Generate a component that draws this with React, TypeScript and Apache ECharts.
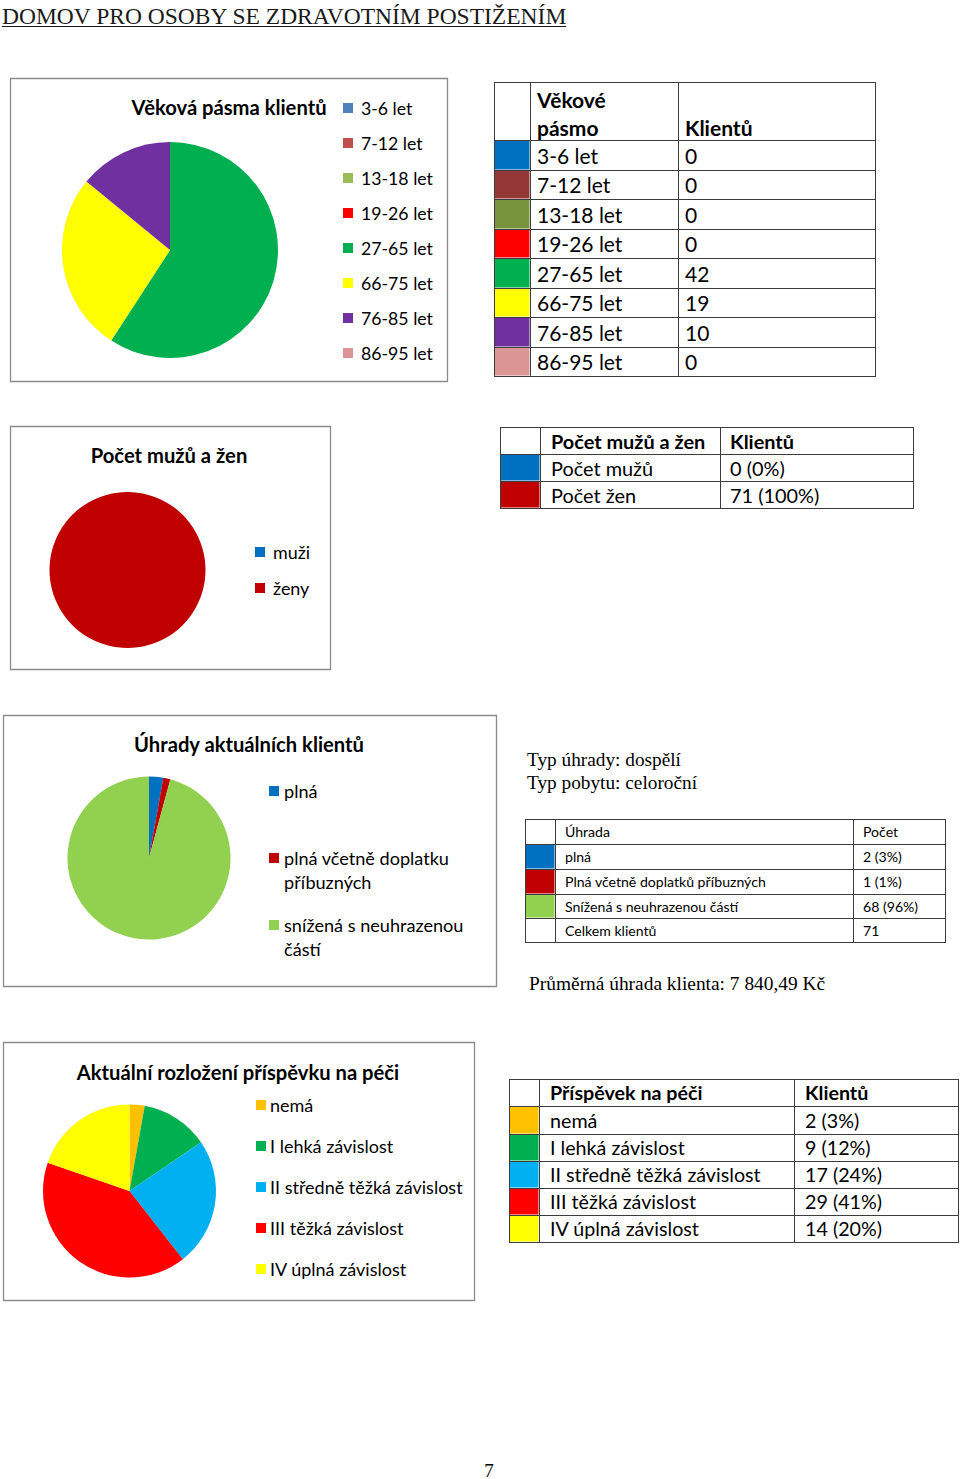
import React, { useEffect, useRef } from "react";
import * as echarts from "echarts";

const SANS = "Lato, Carlito, Calibri, 'Open Sans', sans-serif";
const SERIF = "'Liberation Serif', 'Times New Roman', serif";

const pageTitle = "DOMOV PRO OSOBY SE ZDRAVOTNÍM POSTIŽENÍM";
const pageNumber = "7";

// 1 – age bands
const ageTitle = "Věková pásma klientů";
const ageNames = ["3-6 let", "7-12 let", "13-18 let", "19-26 let", "27-65 let", "66-75 let", "76-85 let", "86-95 let"];
const ageValues = [0, 0, 0, 0, 42, 19, 10, 0];
const ageChartColors = ["#4F81BD", "#C0504D", "#9BBB59", "#FF0000", "#00B050", "#FFFF00", "#7030A0", "#D99694"];
const ageTableColors = ["#0070C0", "#953735", "#77933C", "#FF0000", "#00B050", "#FFFF00", "#7030A0", "#D99694"];
const ageTableHeader = ["Věkové", "pásmo", "Klientů"];

// 2 – men / women
const sexTitle = "Počet mužů a žen";
const sexNames = ["muži", "ženy"];
const sexValues = [0, 71];
const sexColors = ["#0070C0", "#C00000"];
const sexTableHeader = ["Počet mužů a žen", "Klientů"];
const sexTableLabels = ["Počet mužů", "Počet žen"];
const sexTableValues = ["0 (0%)", "71 (100%)"];

// 3 – payments
const payTitle = "Úhrady aktuálních klientů";
const payNames = ["plná", "plná včetně doplatku příbuzných", "snížená s neuhrazenou částí"];
const payLegendLines = [["plná"], ["plná včetně doplatku", "příbuzných"], ["snížená s neuhrazenou", "částí"]];
const payValues = [2, 1, 68];
const payColors = ["#0070C0", "#C00000", "#92D050"];
const payTableHeader = ["Úhrada", "Počet"];
const payTableLabels = ["plná", "Plná včetně doplatků příbuzných", "Snížená s neuhrazenou částí"];
const payTableCounts = ["2 (3%)", "1 (1%)", "68 (96%)"];
const payTotalLabel = "Celkem klientů";
const payTotal = "71";
const payInfoLines = ["Typ úhrady: dospělí", "Typ pobytu: celoroční"];
const payAverage = "Průměrná úhrada klienta: 7 840,49 Kč";

// 4 – care allowance
const careTitle = "Aktuální rozložení příspěvku na péči";
const careNames = ["nemá", "I lehká závislost", "II středně těžká závislost", "III těžká závislost", "IV úplná závislost"];
const careValues = [2, 9, 17, 29, 14];
const careColors = ["#FFC000", "#00B050", "#00B0F0", "#FF0000", "#FFFF00"];
const careTableHeader = ["Příspěvek na péči", "Klientů"];
const careTableValues = ["2 (3%)", "9 (12%)", "17 (24%)", "29 (41%)", "14 (20%)"];

function txt(x: number, y: number, text: string, size: number, o: any = {}) {
  const align = o.align ?? "left";
  return {
    type: "text",
    x,
    y,
    silent: true,
    z: 20,
    style: {
      text,
      fill: o.fill ?? "#000",
      fontSize: size,
      fontFamily: o.family ?? SANS,
      fontWeight: o.bold ? "bold" : "normal",
      align,
      verticalAlign: "middle",
      textAlign: align,
      textVerticalAlign: "middle",
    },
  };
}

function rect(x: number, y: number, w: number, h: number, fill: string, stroke?: string, lw?: number) {
  return {
    type: "rect",
    silent: true,
    z: 5,
    shape: { x, y, width: w, height: h },
    style: { fill, stroke: stroke ?? "none", lineWidth: lw ?? 0 },
  };
}

function line(x1: number, y1: number, x2: number, y2: number, stroke: string, lw: number) {
  return { type: "line", silent: true, z: 10, shape: { x1, y1, x2, y2 }, style: { stroke, lineWidth: lw } };
}

function grid(cols: number[], rows: number[], colors: (string | null)[]) {
  const els: any[] = [];
  colors.forEach((c, r) => {
    if (c) els.push(rect(cols[0] + 0.5, rows[r] + 0.5, cols[1] - cols[0] - 1, rows[r + 1] - rows[r] - 1, c));
  });
  const stroke = "#3c3c3c";
  rows.forEach((y) => els.push(line(cols[0], y + 0.5, cols[cols.length - 1] + 1, y + 0.5, stroke, 1)));
  cols.forEach((x) => els.push(line(x + 0.5, rows[0], x + 0.5, rows[rows.length - 1] + 1, stroke, 1)));
  return els;
}

function box(x1: number, y1: number, x2: number, y2: number) {
  return rect(x1 + 0.5, y1 + 0.5, x2 - x1, y2 - y1, "rgba(0,0,0,0)", "#8a8a8a", 1.3);
}

function legend(x: number, ys: number[], lines: string[][], colors: string[], size: number, gap: number, lh: number) {
  const els: any[] = [];
  ys.forEach((y, i) => {
    els.push(rect(x, y - 5, 10, 10, colors[i]));
    lines[i].forEach((t, k) => els.push(txt(x + gap, y + k * lh, t, size)));
  });
  return els;
}

function centers(rows: number[]) {
  return rows.slice(0, -1).map((y, i) => (y + rows[i + 1]) / 2);
}

function buildOption() {
  const g: any[] = [];
  const TITLE = 20.2;

  // page header
  g.push(txt(2, 16, pageTitle, 23.5, { family: SERIF, fill: "#1a1a1a" }));
  g.push(line(2, 26.5, 566, 26.5, "#1a1a1a", 1));

  // ---- section 1
  g.push(box(10, 78, 447, 381));
  g.push(txt(229, 107, ageTitle, TITLE, { bold: true, align: "center" }));
  g.push(
    ...legend(
      343,
      ageNames.map((_, i) => 108 + i * 35),
      ageNames.map((n) => [n]),
      ageChartColors,
      17.7,
      18,
      0
    )
  );
  const t1c = [494, 530, 678, 875];
  const t1r = [82, 140, 170, 199, 229, 258, 288, 317, 347, 376];
  g.push(...grid(t1c, t1r, [null, ...ageTableColors]));
  g.push(txt(537, 99, ageTableHeader[0], 21, { bold: true }));
  g.push(txt(537, 127, ageTableHeader[1], 21, { bold: true }));
  g.push(txt(685, 127, ageTableHeader[2], 21, { bold: true }));
  const c1 = centers(t1r).slice(1);
  ageNames.forEach((n, i) => {
    g.push(txt(537, c1[i], n, 21));
    g.push(txt(685, c1[i], String(ageValues[i]), 21));
  });

  // ---- section 2
  g.push(box(10, 426, 330, 669));
  g.push(txt(169, 455, sexTitle, TITLE, { bold: true, align: "center" }));
  g.push(...legend(255, [552, 588], sexNames.map((n) => [n]), sexColors, 17.9, 18, 0));
  const t2c = [500, 540, 720, 913];
  const t2r = [427, 454, 481, 508];
  g.push(...grid(t2c, t2r, [null, ...sexColors]));
  const c2 = centers(t2r);
  g.push(txt(551, c2[0], sexTableHeader[0], 19.9, { bold: true }));
  g.push(txt(730, c2[0], sexTableHeader[1], 19.9, { bold: true }));
  sexTableLabels.forEach((n, i) => {
    g.push(txt(551, c2[i + 1], n, 19.9));
    g.push(txt(730, c2[i + 1], sexTableValues[i], 19.9));
  });

  // ---- section 3
  g.push(box(3, 715, 496, 986));
  g.push(txt(249, 744, payTitle, TITLE, { bold: true, align: "center" }));
  g.push(...legend(269, [791, 858, 925], payLegendLines, payColors, 18.1, 15, 24));
  g.push(txt(527, 759, payInfoLines[0], 19.3, { family: SERIF }));
  g.push(txt(527, 782, payInfoLines[1], 19.3, { family: SERIF }));
  const t3c = [525, 555, 853, 945];
  const t3r = [819, 844, 869, 894, 918, 942];
  g.push(...grid(t3c, t3r, [null, ...payColors, null]));
  const c3 = centers(t3r);
  const T3 = 14.1;
  g.push(txt(565, c3[0], payTableHeader[0], T3));
  g.push(txt(863, c3[0], payTableHeader[1], T3));
  payTableLabels.forEach((n, i) => {
    g.push(txt(565, c3[i + 1], n, T3));
    g.push(txt(863, c3[i + 1], payTableCounts[i], T3));
  });
  g.push(txt(565, c3[4], payTotalLabel, T3));
  g.push(txt(863, c3[4], payTotal, T3));
  g.push(txt(529, 983, payAverage, 19.4, { family: SERIF }));

  // ---- section 4
  g.push(box(3, 1042, 474, 1300));
  g.push(txt(238, 1072, careTitle, TITLE, { bold: true, align: "center" }));
  g.push(
    ...legend(
      256,
      careNames.map((_, i) => 1105 + i * 41),
      careNames.map((n) => [n]),
      careColors,
      18,
      14,
      0
    )
  );
  const t4c = [509, 539, 794, 958];
  const t4r = [1079, 1106, 1134, 1161, 1188, 1215, 1242];
  g.push(...grid(t4c, t4r, [null, ...careColors]));
  const c4 = centers(t4r);
  const T4 = 19.7;
  g.push(txt(550, c4[0], careTableHeader[0], T4, { bold: true }));
  g.push(txt(805, c4[0], careTableHeader[1], T4, { bold: true }));
  careNames.forEach((n, i) => {
    g.push(txt(550, c4[i + 1], n, T4));
    g.push(txt(805, c4[i + 1], careTableValues[i], T4));
  });

  // page number
  g.push(txt(489, 1470, pageNumber, 19, { family: SERIF, align: "center" }));

  const pie = (center: number[], r: number, names: string[], values: number[], colors: string[]) => ({
    type: "pie",
    center,
    radius: r,
    startAngle: 90,
    clockwise: true,
    silent: true,
    label: { show: false },
    labelLine: { show: false },
    emphasis: { disabled: true },
    itemStyle: { borderWidth: 0 },
    data: names.map((n, i) => ({ name: n, value: values[i], itemStyle: { color: colors[i] } })),
  });

  return {
    animation: false,
    backgroundColor: "#ffffff",
    series: [
      pie([170, 250], 108, ageNames, ageValues, ageChartColors),
      pie([127.5, 570], 78, sexNames, sexValues, sexColors),
      pie([149, 858], 81.5, payNames, payValues, payColors),
      pie([129.5, 1191], 86.5, careNames, careValues, careColors),
    ],
    graphic: { elements: g },
  };
}

export default function App() {
  const ref = useRef<HTMLDivElement>(null);
  useEffect(() => {
    if (!ref.current) return;
    const chart = echarts.init(ref.current, null, { renderer: "svg" });
    chart.setOption(buildOption() as any);
    return () => chart.dispose();
  }, []);
  return (
    <div
      ref={ref}
      style={{ position: "absolute", left: 0, top: 0, width: 960, height: 1479, background: "#fff" }}
    />
  );
}
